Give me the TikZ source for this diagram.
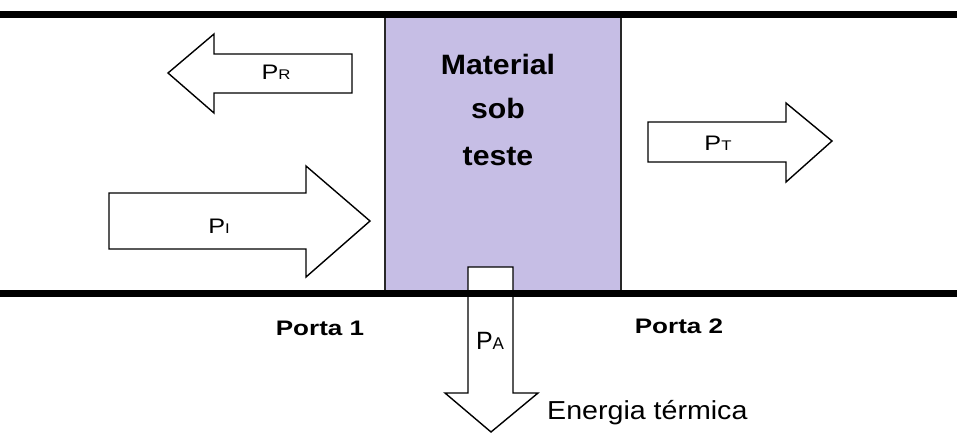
\documentclass[tikz,border=0pt]{standalone}
\usepackage{fontspec}
\usepackage{graphicx}
\setmainfont{Liberation Sans}
\definecolor{lav}{RGB}{198,190,229}
\definecolor{edge}{RGB}{40,40,40}
\tikzset{
  blockarrow/.style={draw=black, fill=white, line width=1.4pt, line join=miter},
  rail/.style={draw=black, line width=7pt},
  plab/.style={inner sep=0pt, anchor=center},
  boldlab/.style={inner sep=0pt, anchor=center, font=\bfseries},
}
\newcommand{\pw}[2]{\scalebox{1.2}[1]{{\fontsize{21}{22}\selectfont #1}{\fontsize{14}{15}\selectfont #2}}}
\begin{document}
\begin{tikzpicture}[x=1pt,y=-1pt]
\useasboundingbox (0,0) rectangle (957,432);
% material box
\draw[fill=lav, draw=edge, line width=1.4pt] (385,14) rectangle (621,293);
% PR arrow (left)
\draw[blockarrow] (352,54) -- (214,54) -- (214,34) -- (168,73) -- (214,113) -- (214,93) -- (352,93) -- cycle;
% PI arrow (right)
\draw[blockarrow] (109,193) -- (306,193) -- (306,166) -- (370,221) -- (306,277) -- (306,249) -- (109,249) -- cycle;
% PT arrow (right)
\draw[blockarrow] (648,122) -- (786,122) -- (786,103) -- (832,141) -- (786,182) -- (786,162) -- (648,162) -- cycle;
% PA arrow (down)
\draw[blockarrow] (468,267) -- (513,267) -- (513,393) -- (538,393) -- (491,432) -- (445,393) -- (468,393) -- cycle;
% rails
\draw[rail] (0,14) -- (957,14);
\draw[rail] (0,293) -- (957,293);
% labels
\node[plab] (pr) at (276,72) {\pw{P}{R}};
\node[plab] (pi) at (219,226) {\pw{P}{I}};
\node[plab] (pt) at (718,143) {\pw{P}{T}};
\node[plab] (pa) at (490,341) {{\fontsize{25}{26}\selectfont P}{\fontsize{17}{18}\selectfont A}};
\node[boldlab] (mat) at (498,64) {\fontsize{28}{30}\selectfont\scalebox{1.08}[1]{Material}};
\node[boldlab] (sob) at (498,108) {\fontsize{28}{30}\selectfont\scalebox{1.08}[1]{sob}};
\node[boldlab] (tes) at (498,156) {\fontsize{28}{30}\selectfont\scalebox{1.08}[1]{teste}};
\node[boldlab] (p1) at (320,328) {\fontsize{21}{22}\selectfont\scalebox{1.24}[1]{Porta 1}};
\node[boldlab] (p2) at (679,326) {\fontsize{21}{22}\selectfont\scalebox{1.24}[1]{Porta 2}};
\node[inner sep=0pt, anchor=west] (en) at (547,413) {\fontsize{26}{27}\selectfont\scalebox{1.1}[1]{Energia térmica}};
\end{tikzpicture}
\end{document}
